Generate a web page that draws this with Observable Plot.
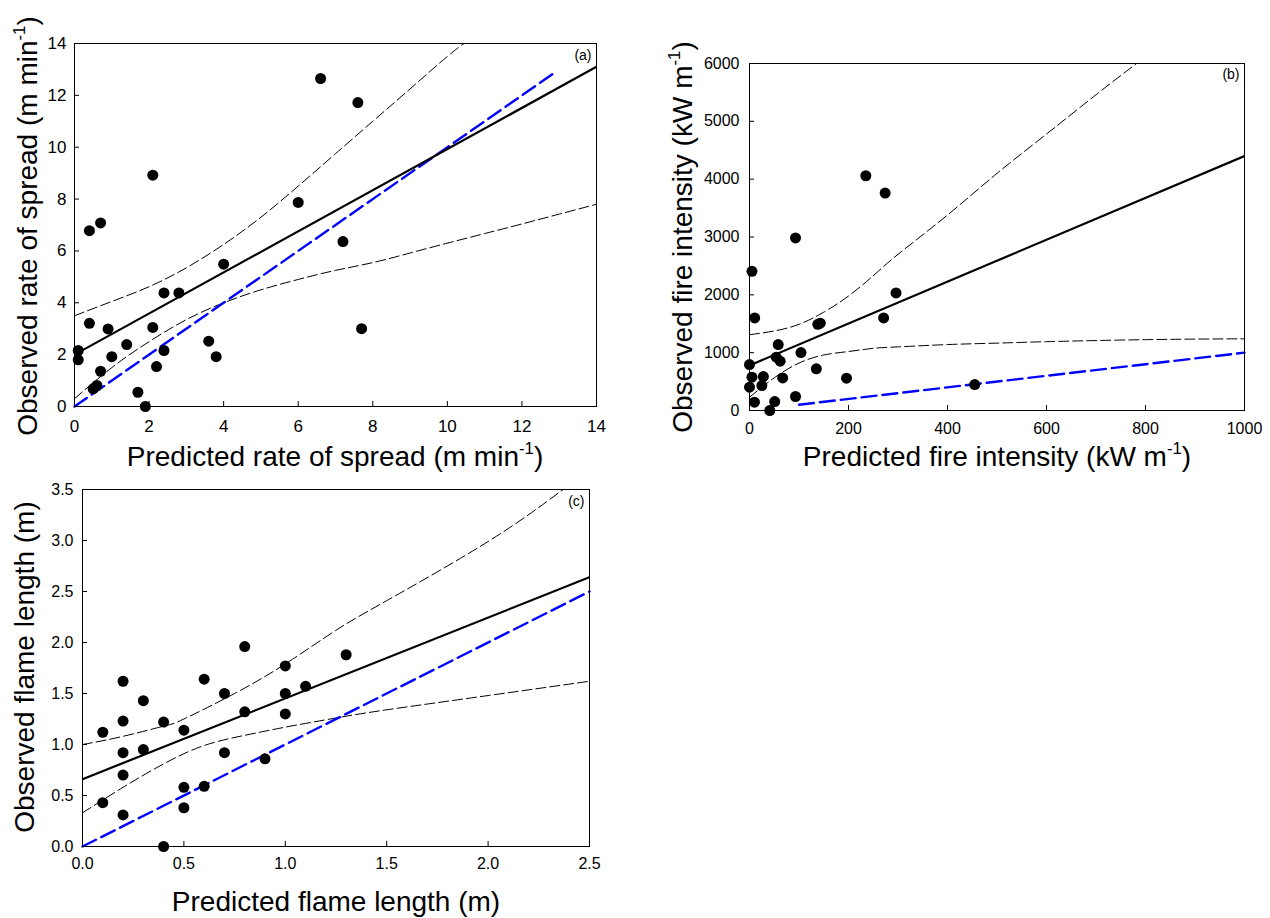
<!DOCTYPE html>
<html>
<head>
<meta charset="utf-8">
<script src="https://cdn.jsdelivr.net/npm/d3@7"></script>
<script src="https://cdn.jsdelivr.net/npm/@observablehq/plot@0.6"></script>
<style>
  html, body { margin: 0; padding: 0; background: #fff; }
  #root { position: relative; width: 1270px; height: 918px; overflow: hidden; font-family: "Liberation Sans", Arial, sans-serif; color: #000; }
  .panel { position: absolute; }
  .panel svg { background: transparent !important; overflow: visible; }
  .title { position: absolute; white-space: nowrap; font-size: 28px; line-height: 1; transform: translate(-50%, -50%); }
  .ytitle { transform: translate(-50%, -50%) rotate(-90deg); }
  .sup { position: relative; top: -0.72em; font-size: 0.6em; }
</style>
</head>
<body>
<div id="root"></div>
<script>
// ---------- Panel (a): rate of spread (m min-1) ----------
const predictedROS = [0.1, 0.1, 0.4, 0.7, 0.4, 0.9, 1.0, 0.7, 0.5, 0.6, 1.4, 1.7, 1.9, 2.1, 2.1, 2.2, 2.4, 2.4, 2.8, 3.6, 3.8, 4.0, 6.0, 6.6, 7.2, 7.6, 7.7];
const observedROS  = [2.16, 1.8, 6.78, 7.08, 3.21, 2.99, 1.92, 1.36, 0.68, 0.81, 2.39, 0.55, 0.0, 8.92, 3.05, 1.54, 4.38, 2.16, 4.38, 2.52, 1.92, 5.49, 7.87, 12.65, 6.36, 11.72, 3.0];
const fitROS_x   = [0, 14];
const fitROS_y   = [2.0, 13.1];
const upperROS_x = [0, 1, 2, 3, 4, 5, 6, 7, 8, 9, 10, 10.45];
const upperROS_y = [3.5, 4.05, 4.62, 5.35, 6.25, 7.3, 8.5, 9.75, 11.0, 12.25, 13.5, 14.0];
const lowerROS_x = [0, 1, 2, 3, 4, 5, 6, 7, 8, 9, 10, 11, 12, 13, 14];
const lowerROS_y = [0.3, 1.5, 2.5, 3.35, 4.0, 4.5, 4.9, 5.25, 5.55, 5.92, 6.3, 6.67, 7.04, 7.42, 7.8];
const oneToOneROS = [0, 12.85];
const ticksROS = [0, 2, 4, 6, 8, 10, 12, 14];

// ---------- Panel (b): fire intensity (kW m-1) ----------
const predictedFI = [0, 0, 5, 5, 10.5, 10, 28, 25, 41, 51, 54, 58, 62, 67, 93, 93, 104, 135, 138, 143, 196, 235, 274, 271, 296, 455];
const observedFI  = [795, 403, 576, 2407, 1601, 144, 587, 432, 0, 155, 921, 1140, 852, 564, 2983, 242, 1002, 720, 1490, 1510, 559, 4059, 3760, 1601, 2033, 449];
const fitFI_x   = [0, 1000];
const fitFI_y   = [780, 4400];
const upperFI_x = [0, 50, 100, 150, 200, 250, 300, 400, 500, 600, 700, 782];
const upperFI_y = [1310, 1375, 1490, 1700, 1980, 2330, 2700, 3380, 4100, 4780, 5460, 6000];
const lowerFI_x = [0, 50, 100, 150, 200, 250, 300, 400, 500, 600, 800, 1000];
const lowerFI_y = [230, 565, 820, 960, 1020, 1075, 1100, 1140, 1165, 1190, 1225, 1240];
const oneToOneFI = [100, 1000];
const xTicksFI = [0, 200, 400, 600, 800, 1000];
const yTicksFI = [0, 1000, 2000, 3000, 4000, 5000, 6000];

// ---------- Panel (c): flame length (m) ----------
const predictedFL = [0.1, 0.1, 0.2, 0.2, 0.2, 0.2, 0.2, 0.3, 0.3, 0.4, 0.4, 0.5, 0.5, 0.5, 0.6, 0.6, 0.7, 0.7, 0.8, 0.8, 0.9, 1.0, 1.0, 1.0, 1.1, 1.3];
const observedFL  = [1.12, 0.43, 1.62, 1.23, 0.92, 0.70, 0.31, 1.43, 0.95, 1.22, 0.0, 1.14, 0.58, 0.38, 1.64, 0.59, 1.50, 0.92, 1.96, 1.32, 0.86, 1.77, 1.50, 1.30, 1.57, 1.88];
const fitFL_x   = [0, 2.5];
const fitFL_y   = [0.66, 2.64];
const upperFL_x = [0, 0.2, 0.4, 0.5, 0.75, 1.0, 1.25, 1.5, 2.0, 2.37];
const upperFL_y = [1.0, 1.08, 1.18, 1.25, 1.5, 1.79, 2.12, 2.41, 2.99, 3.5];
const lowerFL_x = [0, 0.2, 0.4, 0.6, 0.8, 1.0, 1.25, 1.5, 2.0, 2.5];
const lowerFL_y = [0.33, 0.58, 0.81, 0.99, 1.09, 1.17, 1.26, 1.34, 1.48, 1.62];
const oneToOneFL = [0, 2.5];
const ticksFL = [0, 0.5, 1.0, 1.5, 2.0, 2.5, 3.0, 3.5];

const FONT = '"Liberation Sans", Arial, sans-serif';
const zip = (xs, ys) => xs.map((x, i) => ({x, y: ys[i]}));

function panel({px, py, ox, oy, xDomain, yDomain, xTicks, yTicks, fmt, fontSize, xPad, yPad, tag, tagDy,
                width, height, margins, fitX, fitY, upX, upY, loX, loY, one}) {
  const pts = zip(px, py);
  const chart = Plot.plot({
    width, height,
    marginLeft: margins[0], marginTop: margins[1], marginRight: margins[2], marginBottom: margins[3],
    style: {fontFamily: FONT, fontSize: fontSize + "px", color: "#000", background: "transparent"},
    x: {domain: xDomain},
    y: {domain: yDomain},
    marks: [
      Plot.line(zip(upX, upY), {x: "x", y: "y", stroke: "#000", strokeWidth: 1, strokeDasharray: "10,4", curve: "natural", clip: true}),
      Plot.line(zip(loX, loY), {x: "x", y: "y", stroke: "#000", strokeWidth: 1, strokeDasharray: "10,4", curve: "natural", clip: true}),
      Plot.line(zip(one, one), {x: "x", y: "y", stroke: "#0000ff", strokeWidth: 2.4, strokeDasharray: "15,6"}),
      Plot.line(zip(fitX, fitY), {x: "x", y: "y", stroke: "#000", strokeWidth: 2.2, clip: true}),
      Plot.dot(pts, {x: "x", y: "y", r: 5.5, fill: "#000", stroke: "none"}),
      Plot.axisX({ticks: xTicks, tickSize: -5, tickPadding: xPad, tickFormat: fmt.x, label: null}),
      Plot.axisY({ticks: yTicks, tickSize: -5, tickPadding: yPad, tickFormat: fmt.y, label: null}),
      Plot.frame({stroke: "#000", strokeWidth: 1}),
      Plot.text([tag], {frameAnchor: "top-right", dx: -5, dy: tagDy, lineAnchor: "top", textAnchor: "end", fontSize: 14, fill: "#000"})
    ]
  });
  const div = document.createElement("div");
  div.className = "panel";
  div.style.left = ox + "px";
  div.style.top = oy + "px";
  div.appendChild(chart);
  document.getElementById("root").appendChild(div);
}

function title(html, cx, cy, vertical) {
  const d = document.createElement("div");
  d.className = "title" + (vertical ? " ytitle" : "");
  d.style.left = cx + "px";
  d.style.top = cy + "px";
  d.innerHTML = html;
  document.getElementById("root").appendChild(d);
}

panel({px: predictedROS, py: observedROS, ox: 0, oy: 0, xDomain: [0, 14], yDomain: [0, 14],
  xTicks: ticksROS, yTicks: ticksROS, fmt: {x: d3.format("d"), y: d3.format("d")}, fontSize: 17, xPad: 18, yPad: 13,
  tag: "(a)", tagDy: 7, width: 620, height: 480, margins: [74, 43, 24, 74],
  fitX: fitROS_x, fitY: fitROS_y, upX: upperROS_x, upY: upperROS_y, loX: lowerROS_x, loY: lowerROS_y, one: oneToOneROS});

panel({px: predictedFI, py: observedFI, ox: 640, oy: 0, xDomain: [0, 1000], yDomain: [0, 6000],
  xTicks: xTicksFI, yTicks: yTicksFI, fmt: {x: d3.format("d"), y: d3.format("d")}, fontSize: 16, xPad: 17, yPad: 15,
  tag: "(b)", tagDy: 6, width: 630, height: 480, margins: [109, 63, 26, 70],
  fitX: fitFI_x, fitY: fitFI_y, upX: upperFI_x, upY: upperFI_y, loX: lowerFI_x, loY: lowerFI_y, one: oneToOneFI});

panel({px: predictedFL, py: observedFL, ox: 0, oy: 460, xDomain: [0, 2.5], yDomain: [0, 3.5],
  xTicks: ticksFL.slice(0, 6), yTicks: ticksFL, fmt: {x: d3.format(".1f"), y: d3.format(".1f")}, fontSize: 16, xPad: 16, yPad: 14,
  tag: "(c)", tagDy: 7, width: 620, height: 458, margins: [82, 29, 31, 72],
  fitX: fitFL_x, fitY: fitFL_y, upX: upperFL_x, upY: upperFL_y, loX: lowerFL_x, loY: lowerFL_y, one: oneToOneFL});

title('Predicted rate of spread (m min<span class="sup">-1</span>)', 335, 457, false);
title('Observed rate of spread (m min<span class="sup">-1</span>)', 28, 226, true);
title('Predicted fire intensity (kW m<span class="sup">-1</span>)', 997, 457, false);
title('Observed fire intensity (kW m<span class="sup">-1</span>)', 683, 237, true);
title('Predicted flame length (m)', 336, 902, false);
title('Observed flame length (m)', 25, 667, true);
</script>
</body>
</html>
